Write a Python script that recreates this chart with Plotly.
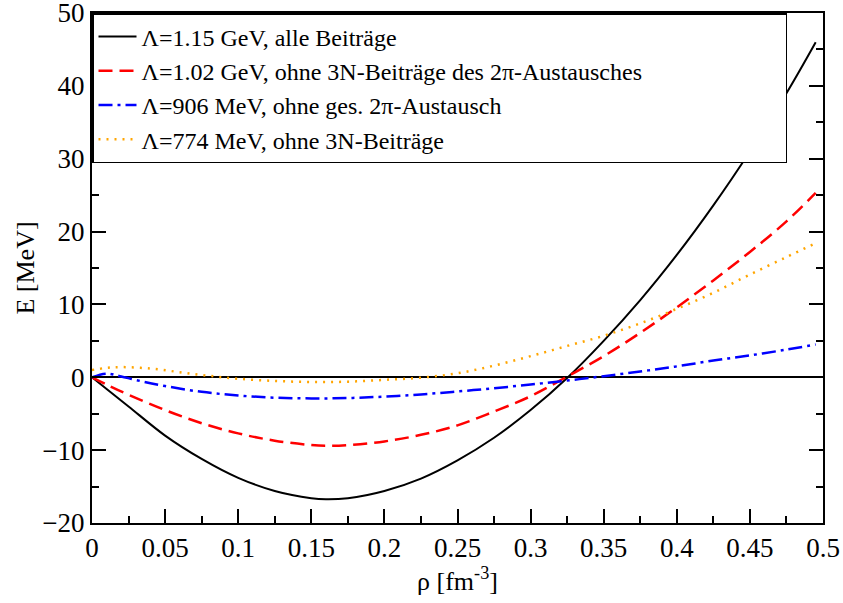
import plotly.graph_objects as go

rho = [0.0, 0.01, 0.025, 0.05, 0.075, 0.1, 0.125, 0.15, 0.16, 0.175, 0.2, 0.225, 0.25,
       0.275, 0.3, 0.325, 0.35, 0.375, 0.4, 0.425, 0.45, 0.475, 0.495]
e_all = [0.0, -1.6, -4.0, -8.0, -11.2, -13.8, -15.6, -16.6, -16.75, -16.6, -15.6, -13.9, -11.4,
         -8.3, -4.5, -0.1, 5.0, 10.6, 16.8, 23.6, 31.0, 39.0, 46.0]
e_no3n2pi = [0.0, -1.0, -2.4, -4.5, -6.3, -7.7, -8.7, -9.3, -9.4, -9.3, -8.8, -7.9, -6.6,
             -4.7, -2.6, 0.1, 2.9, 6.1, 9.6, 13.3, 17.2, 21.4, 25.3]

rho_b = [0.0, 0.01, 0.02, 0.035, 0.05, 0.075, 0.1, 0.125, 0.15, 0.175, 0.2, 0.225, 0.25,
         0.275, 0.3, 0.325, 0.35, 0.375, 0.4, 0.425, 0.45, 0.475, 0.495]
e_no2pi = [0.0, 0.5, 0.1, -0.6, -1.2, -2.0, -2.5, -2.8, -2.9, -2.85, -2.65, -2.35, -1.95,
           -1.5, -1.0, -0.45, 0.15, 0.8, 1.5, 2.3, 3.0, 3.8, 4.5]

rho_o = [0.0, 0.01, 0.02, 0.04, 0.06, 0.08, 0.1, 0.125, 0.15, 0.175, 0.2, 0.225, 0.25,
         0.275, 0.3, 0.325, 0.35, 0.375, 0.4, 0.425, 0.45, 0.475, 0.495]
e_no3n = [1.0, 1.3, 1.4, 1.2, 0.7, 0.2, -0.2, -0.5, -0.65, -0.6, -0.35, -0.05, 0.55,
          1.6, 2.9, 4.3, 5.7, 7.4, 9.4, 11.6, 14.1, 16.5, 18.4]

names = ["Λ=1.15 GeV, alle Beiträge",
         "Λ=1.02 GeV, ohne 3N-Beiträge des 2π-Austausches",
         "Λ=906 MeV, ohne ges. 2π-Austausch",
         "Λ=774 MeV, ohne 3N-Beiträge"]

x_tickvals = [0, 0.05, 0.1, 0.15, 0.2, 0.25, 0.3, 0.35, 0.4, 0.45, 0.5]
x_ticktext = ["0", "0.05", "0.1", "0.15", "0.2", "0.25", "0.3", "0.35", "0.4", "0.45", "0.5"]

FONT = "Liberation Serif"
PAD = "\u00a0" * 23  # widens the legend box to the reference width

fig = go.Figure()
fig.add_trace(go.Scatter(x=rho, y=e_all, mode="lines", name=names[0],
                         line=dict(color="black", width=2, shape="spline")))
fig.add_trace(go.Scatter(x=rho, y=e_no3n2pi, mode="lines", name=names[1] + PAD,
                         line=dict(color="#ff0000", width=2.5, dash="14px,7px", shape="spline")))
fig.add_trace(go.Scatter(x=rho_b, y=e_no2pi, mode="lines", name=names[2],
                         line=dict(color="#0000ff", width=2.5, dash="14px,5px,3px,5px", shape="spline")))
fig.add_trace(go.Scatter(x=rho_o, y=e_no3n, mode="lines", name=names[3],
                         line=dict(color="#ffa500", width=2.5, dash="2px,6px", shape="spline")))

axis_common = dict(
    showline=True, linecolor="black", linewidth=2, mirror="allticks",
    ticks="inside", ticklen=14, tickwidth=1.5, tickcolor="black",
    showgrid=False, tickfont=dict(family=FONT, size=27, color="black"),
    ticklabeloverflow="allow",
)
fig.update_xaxes(range=[0, 0.5], tickvals=x_tickvals, ticktext=x_ticktext,
                 minor=dict(ticks="inside", ticklen=7, tickwidth=1.5, tickcolor="black", dtick=0.025, tick0=0),
                 zeroline=False, automargin="bottom",
                 title=dict(text="ρ [fm<sup>-3</sup>]", font=dict(family=FONT, size=26, color="black"), standoff=2),
                 **axis_common)
fig.update_yaxes(range=[-20, 50], tick0=-20, dtick=10,
                 minor=dict(ticks="inside", ticklen=7, tickwidth=1.5, tickcolor="black", dtick=5, tick0=0),
                 zeroline=True, zerolinecolor="black", zerolinewidth=1.5, automargin="left",
                 title=dict(text="E [MeV]", font=dict(family=FONT, size=26, color="black"), standoff=0),
                 **axis_common)

fig.update_layout(
    width=843, height=603,
    margin=dict(l=92, r=20, t=13, b=80),
    paper_bgcolor="white", plot_bgcolor="white",
    showlegend=True,
    legend=dict(x=0, y=1, xanchor="left", yanchor="top",
                bgcolor="white", bordercolor="black", borderwidth=1.5,
                font=dict(family=FONT, size=24, color="black"),
                tracegroupgap=0, itemwidth=38),
)

fig.write_html("out.html")
